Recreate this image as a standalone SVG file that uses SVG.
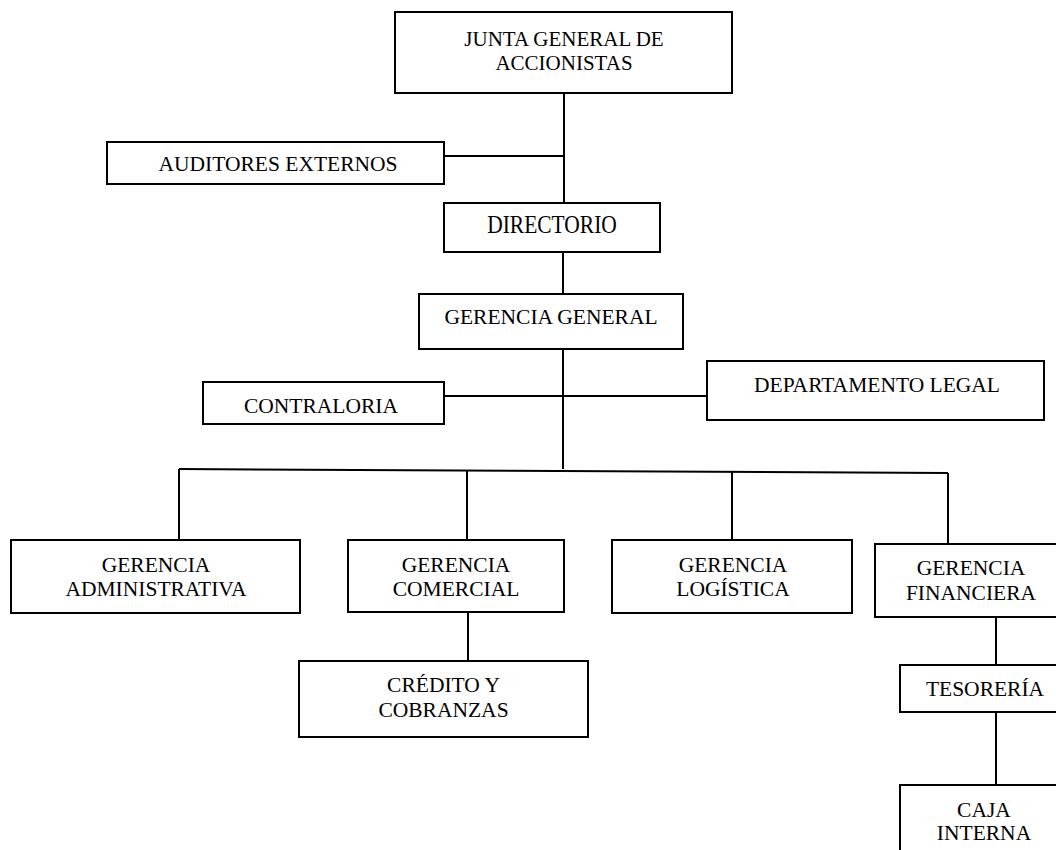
<svg xmlns="http://www.w3.org/2000/svg" width="1056" height="850" viewBox="0 0 1056 850">
  <style>
    .box { fill: #ffffff; stroke: #000000; stroke-width: 2; }
    .ln { stroke: #000000; stroke-width: 2; fill: none; }
    .t { font-family: "Liberation Serif", "Times New Roman", serif; font-size: 21.5px; fill: #000000; text-anchor: middle; }
  </style>
  <rect width="1056" height="850" fill="#ffffff"/>

  <g id="connectors">
    <line class="ln" x1="564" y1="93" x2="564" y2="203"/>
    <line class="ln" x1="444" y1="156" x2="564" y2="156"/>
    <line class="ln" x1="563" y1="252" x2="563" y2="294"/>
    <line class="ln" x1="563" y1="349" x2="563" y2="469"/>
    <line class="ln" x1="444" y1="396" x2="707" y2="396"/>
    <line class="ln" x1="179" y1="469" x2="948" y2="473"/>
    <line class="ln" x1="179" y1="469" x2="179" y2="540"/>
    <line class="ln" x1="467" y1="470" x2="467" y2="540"/>
    <line class="ln" x1="732" y1="471" x2="732" y2="540"/>
    <line class="ln" x1="948" y1="473" x2="948" y2="544"/>
    <line class="ln" x1="468" y1="612" x2="468" y2="661"/>
    <line class="ln" x1="996" y1="617" x2="996" y2="665"/>
    <line class="ln" x1="996" y1="712" x2="996" y2="785"/>
  </g>

  <g id="junta">
    <rect class="box" x="395" y="12" width="337" height="81"/>
    <text class="t" x="564" y="46" style="font-size:21px">JUNTA GENERAL DE</text>
    <text class="t" x="564" y="69.5" style="font-size:21px">ACCIONISTAS</text>
  </g>

  <g id="auditores">
    <rect class="box" x="107" y="142" width="337" height="42"/>
    <text class="t" x="278" y="171">AUDITORES EXTERNOS</text>
  </g>

  <g id="directorio">
    <rect class="box" x="444" y="203" width="216" height="49"/>
    <text class="t" transform="translate(552,233) scale(1,1.17)">DIRECTORIO</text>
  </g>

  <g id="gerencia-general">
    <rect class="box" x="419" y="294" width="264" height="55"/>
    <text class="t" x="551" y="324">GERENCIA GENERAL</text>
  </g>

  <g id="contraloria">
    <rect class="box" x="203" y="382" width="241" height="42"/>
    <text class="t" x="321" y="413">CONTRALORIA</text>
  </g>

  <g id="departamento-legal">
    <rect class="box" x="707" y="361" width="337" height="59"/>
    <text class="t" x="877" y="392">DEPARTAMENTO LEGAL</text>
  </g>

  <g id="gerencia-administrativa">
    <rect class="box" x="11" y="540" width="289" height="73"/>
    <text class="t" x="156" y="572">GERENCIA</text>
    <text class="t" x="156" y="596">ADMINISTRATIVA</text>
  </g>

  <g id="gerencia-comercial">
    <rect class="box" x="348" y="540" width="216" height="72"/>
    <text class="t" x="456" y="572">GERENCIA</text>
    <text class="t" x="456" y="596">COMERCIAL</text>
  </g>

  <g id="credito-cobranzas">
    <rect class="box" x="299" y="661" width="289" height="76"/>
    <text class="t" x="443.5" y="692">CRÉDITO Y</text>
    <text class="t" x="443.5" y="717">COBRANZAS</text>
  </g>

  <g id="gerencia-logistica">
    <rect class="box" x="612" y="540" width="240" height="73"/>
    <text class="t" x="733" y="572">GERENCIA</text>
    <text class="t" x="733" y="596">LOGÍSTICA</text>
  </g>

  <g id="gerencia-financiera">
    <rect class="box" x="875" y="544" width="192" height="73"/>
    <text class="t" x="971" y="575">GERENCIA</text>
    <text class="t" x="971" y="600">FINANCIERA</text>
  </g>

  <g id="tesoreria">
    <rect class="box" x="900" y="665" width="170" height="47"/>
    <text class="t" x="985" y="696">TESORERÍA</text>
  </g>

  <g id="caja-interna">
    <rect class="box" x="900" y="785" width="170" height="80"/>
    <text class="t" x="984" y="817">CAJA</text>
    <text class="t" x="984" y="840">INTERNA</text>
  </g>
</svg>
